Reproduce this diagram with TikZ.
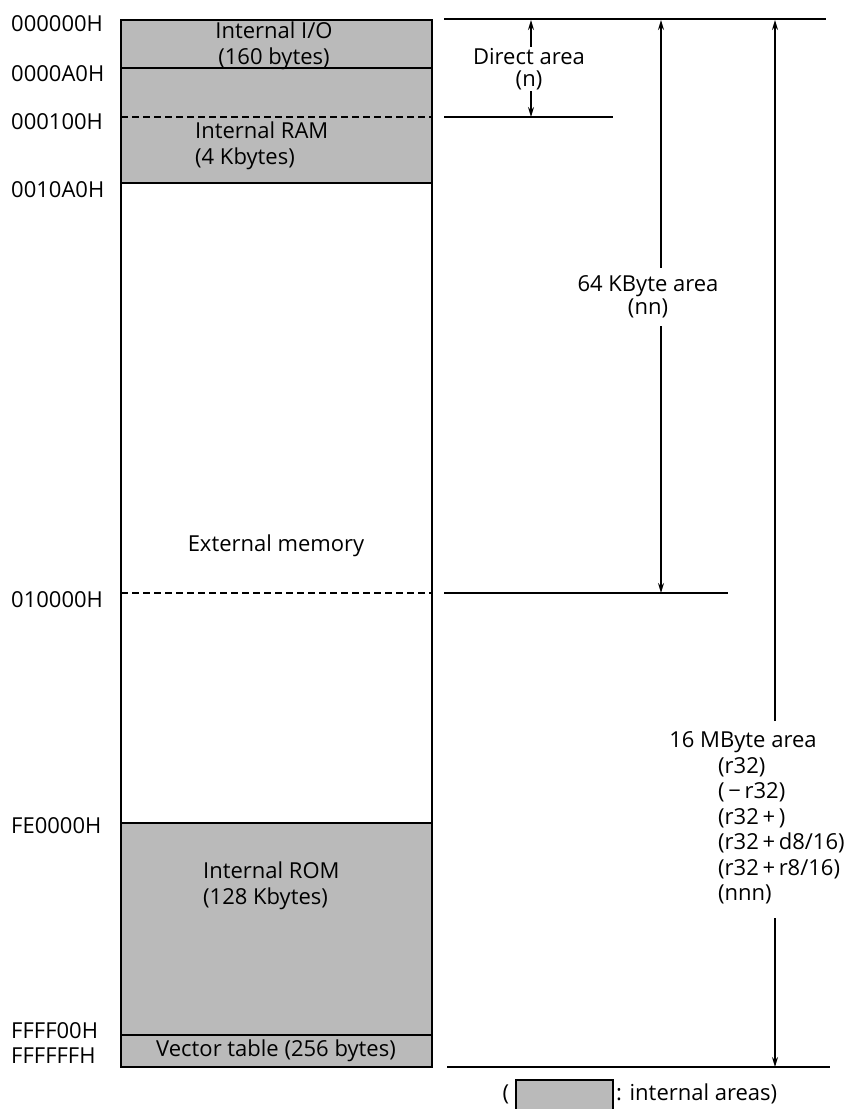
\documentclass[tikz,border=0pt]{standalone}
\usepackage{fontspec}
\setmainfont{Open Sans}
\usetikzlibrary{arrows.meta,positioning}

\begin{document}
\begin{tikzpicture}[x=1pt,y=-1pt,
  every node/.style={font=\fontsize{22}{25.5}\selectfont, inner sep=0pt},
  internal/.style={fill=black!27},
  border/.style={line width=1.8pt},
  sep/.style={line width=1.3pt},
  gap/.style={dash pattern=on 7pt off 4pt},
  addr/.style={anchor=west},
  guide/.style={line width=1.6pt},
  dim/.style={-{Stealth[length=10pt,width=6pt]}, line width=1.3pt}]
  \useasboundingbox (0,0) rectangle (859,1109);
  % internal (shaded) areas
  \fill[internal] (121,20) rectangle (432,183);
  \fill[internal] (121,823) rectangle (432,1067);
  % memory map outline and boundaries
  \draw[border] (121,20) rectangle (432,1067);
  \draw[sep] (121,68) -- (432,68);
  \draw[sep, gap] (121,117) -- (432,117);
  \draw[sep] (121,183) -- (432,183);
  \draw[sep, gap] (121,593) -- (432,593);
  \draw[border] (121,823) -- (432,823);
  \draw[sep] (121,1035) -- (432,1035);
  % addresses
  \node[addr] (a0) at (11,24) {000000H};
  \node[addr] (a1) at (11,74) {0000A0H};
  \node[addr] (a2) at (11,122) {000100H};
  \node[addr] (a3) at (11,190) {0010A0H};
  \node[addr] (a4) at (11,600) {010000H};
  \node[addr] (a5) at (11,826) {FE0000H};
  \node[addr] (a6) at (11,1031) {FFFF00H};
  \node[addr] (a7) at (11,1056) {FFFFFFH};
  % area names
  \node[align=center] (io) at (274,46) {Internal I/O\\(160 bytes)};
  \node[align=left, anchor=west] (ram) at (195,146) {Internal RAM\\(4 Kbytes)};
  \node (ext) at (276,546) {External memory};
  \node[align=left, anchor=west] (rom) at (203,886) {Internal ROM\\(128 Kbytes)};
  \node (vec) at (276,1051) {Vector table (256 bytes)};
  % range guide lines
  \coordinate (gtopl) at (444,19);
  \coordinate (gtopr) at (826,19);
  \coordinate (gdirl) at (444,117);
  \coordinate (gdirr) at (613,117);
  \coordinate (gkbl) at (444,593);
  \coordinate (gkbr) at (728,593);
  \coordinate (gbotl) at (447,1067);
  \coordinate (gbotr) at (830,1067);
  \draw[guide] (gtopl) -- (gtopr);
  \draw[guide] (gdirl) -- (gdirr);
  \draw[guide] (gkbl) -- (gkbr);
  \draw[guide] (gbotl) -- (gbotr);
  % direct area
  \node[align=center] (dir) at (529,69) {Direct area\\[-3pt](n)};
  \coordinate (dtop) at (531,20);
  \coordinate (dbot) at (531,117);
  \draw[dim] (dir.north -| dtop) ++(0,-1) -- (dtop);
  \draw[dim] (dir.south -| dbot) ++(0,1) -- (dbot);
  % 64 KByte area
  \node[align=center] (kb) at (648,297) {64 KByte area\\[-3pt](nn)};
  \coordinate (ktop) at (661,20);
  \coordinate (kbot) at (661,593);
  \draw[dim] (kb.north -| ktop) ++(0,-8) -- (ktop);
  \draw[dim] (kb.south -| kbot) ++(0,8) -- (kbot);
  % 16 MByte area
  \node[anchor=north] (mb) at (743,731) {16 MByte area};
  \node[anchor=north west, align=left] (modes) at (718,757)
    {(r32)\\(\,\textminus\,r32)\\(r32\,+\,)\\(r32\,+\,d8/16)\\(r32\,+\,r8/16)\\(nnn)};
  \coordinate (mtop) at (775,20);
  \coordinate (mbot) at (775,1067);
  \draw[dim] (mb.north -| mtop) ++(0,-10) -- (mtop);
  \draw[dim] (modes.south -| mbot) ++(0,14) -- (mbot);
  % legend
  \node (lpar) at (506,1094) {(};
  \draw[internal, border] (516,1080) rectangle (613,1115);
  \node[anchor=west] (ltxt) at (616,1094) {: internal areas)};
\end{tikzpicture}
\end{document}
